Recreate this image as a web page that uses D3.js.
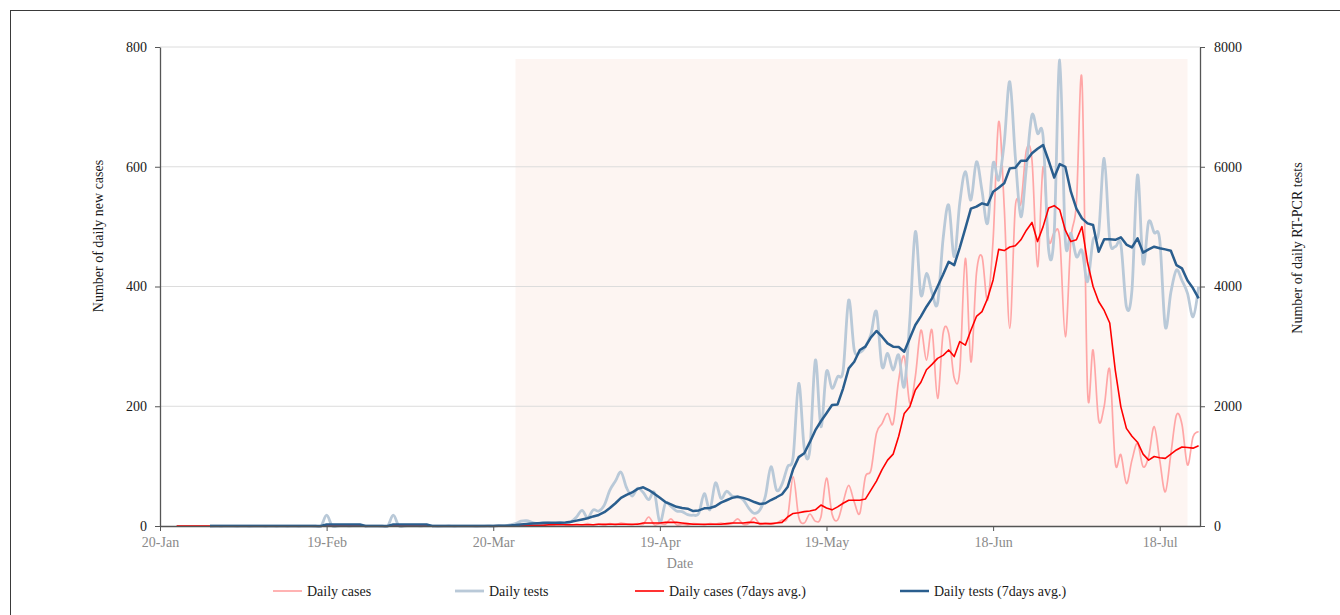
<!DOCTYPE html>
<html>
<head>
<meta charset="utf-8">
<script src="https://cdn.jsdelivr.net/npm/d3@7"></script>
<style>
  body { margin: 0; background: #fff; }
  svg { display: block; }
  text { font-family: "Liberation Serif", "Times New Roman", serif; }
</style>
</head>
<body>
<svg width="1340" height="615"></svg>
<script>
// one value per day, starting 20-Jan-2020
const startDate = "2020-01-20";

const casesDaily = [
  null, null, null, 0, 0, 0, 0, 0, 0, 0,
  0, 0, 0, 0, 0, 0, 0, 0, 0, 0,
  0, 0, 0, 0, 0, 0, 0, 0, 0, 0,
  0, 0, 0, 0, 0, 0, 0, 0, 0, 0,
  0, 0, 0, 0, 0, 0, 0, 0, 0, 0,
  0, 0, 0, 0, 0, 0, 0, 0, 0, 0,
  0, 1, 0, 2, 1, 3, 1, 2, 0, 3,
  1, 2, 4, 2, 1, 3, 2, 4, 2, 3,
  1, 4, 2, 5, 3, 2, 4, 3, 15, 2,
  4, 3, 12, 2, 3, 2, 4, 3, 2, 4,
  3, 5, 3, 4, 12, 3, 4, 14, 3, 5,
  3, 5, 10, 15, 82, 15, 5, 20, 8, 15,
  80, 20, 10, 40, 68, 40, 21, 82, 93, 155,
  171, 188, 171, 244, 283, 205, 250, 327, 277, 327,
  213, 322, 322, 247, 260, 447, 274, 422, 450, 377,
  478, 675, 533, 330, 533, 539, 628, 611, 433, 600,
  478, 490, 480, 316, 478, 539, 745, 227, 294, 177,
  200, 261, 105, 119, 71, 110, 138, 99, 116, 166,
  110, 57, 120, 185, 170, 102, 149, 157
];

const testsDaily = [
  null, null, null, null, null, null, null, null, null, 0,
  2, 0, 3, 1, 0, 2, 0, 1, 3, 0,
  2, 0, 1, 0, 2, 0, 3, 1, 0, 2,
  180, 2, 0, 3, 0, 1, 2, 0, 3, 1,
  0, 2, 180, 3, 0, 2, 1, 0, 3, 2,
  0, 1, 4, 0, 2, 3, 1, 0, 2, 5,
  3, 8, 5, 20, 40, 80, 90, 60, 40, 60,
  50, 40, 60, 40, 70, 150, 260, 140, 270, 250,
  350, 600, 750, 900, 640, 500, 630, 560, 440, 560,
  60, 380, 330, 250, 240, 190, 180, 210, 540, 270,
  720, 460, 580, 500, 490, 440, 300, 212, 267, 500,
  990, 600, 700, 990, 1157, 2383, 1300, 1269, 2772, 1658,
  2577, 2300, 2494, 2600, 3774, 2939, 2900, 2995, 3200, 3579,
  2660, 2884, 2605, 2856, 2326, 3440, 4915, 3858, 4220, 3900,
  3719, 4800, 5360, 4497, 5400, 5917, 5444, 6084, 5600, 5055,
  6057, 5778, 6400, 7420, 6167, 5165, 6000, 6864, 6558, 6500,
  4609, 4900, 7782, 4776, 4888, 4497, 4600, 4080, 4776, 4900,
  6140, 4776, 4665, 4700, 3662, 3941, 5862, 4387, 5082, 4900,
  4776, 3328, 3900, 4275, 4100, 3886, 3495, 3996
];

const casesAvg = [
  null, null, null, 0, 0, 0, 0, 0, 0, 0,
  0, 0, 0, 0, 0, 0, 0, 0, 0, 0,
  0, 0, 0, 0, 0, 0, 0, 0, 0, 0,
  0, 0, 0, 0, 0, 0, 0, 0, 0, 0,
  0, 0, 0, 0, 0, 0, 0, 0, 0, 0,
  0, 0, 0, 0, 0, 0, 0, 0, 0, 0,
  0, 0, 0, 0, 1, 1, 1, 1, 1, 1,
  2, 2, 2, 2, 2, 2, 2, 2, 2, 3,
  3, 3, 3, 3, 3, 3, 3, 5, 5, 5,
  5, 6, 6, 6, 5, 4, 3, 3, 3, 3,
  3, 3, 4, 5, 5, 5, 6, 6, 4, 4,
  4, 5, 6, 15, 21, 22, 24, 25, 27, 35,
  30, 27, 32, 38, 43, 43, 43, 45, 60, 75,
  94, 110, 120, 150, 188, 199, 227, 240, 261, 270,
  280, 285, 294, 283, 308, 302, 327, 350, 358, 380,
  411, 462, 460, 466, 468, 478, 494, 507, 475, 500,
  531, 535, 528, 494, 475, 478, 500, 440, 400, 375,
  360, 339, 260, 199, 163, 150, 140, 120, 110, 116,
  114, 113, 120, 127, 132, 131, 130, 134
];

const testsAvg = [
  null, null, null, null, null, null, null, null, null, 0,
  0, 0, 0, 1, 1, 1, 1, 1, 1, 1,
  1, 1, 1, 1, 1, 1, 1, 1, 1, 1,
  26, 26, 27, 27, 26, 27, 26, 1, 1, 1,
  1, 1, 27, 26, 27, 26, 27, 27, 26, 2,
  1, 2, 1, 1, 2, 2, 1, 2, 2, 2,
  2, 3, 5, 10, 15, 25, 35, 40, 45, 50,
  55, 55, 55, 60, 70, 90, 110, 130, 160, 185,
  230, 300, 380, 470, 520, 560, 620, 646, 600, 540,
  470, 400, 360, 320, 300, 290, 250, 260, 295, 300,
  330, 390, 430, 470, 490, 470, 440, 400, 367, 380,
  434, 480, 530, 650, 950, 1150, 1214, 1400, 1600, 1750,
  1882, 2020, 2030, 2300, 2633, 2744, 2939, 2995, 3150, 3257,
  3162, 3050, 2995, 2990, 2911, 3135, 3357, 3500, 3662, 3802,
  4000, 4200, 4413, 4358, 4650, 4971, 5300, 5333, 5389, 5361,
  5583, 5650, 5723, 5973, 5984, 6100, 6100, 6224, 6300, 6363,
  6100, 5820, 6045, 6000, 5583, 5300, 5138, 5055, 5027, 4581,
  4788, 4788, 4780, 4821, 4700, 4654, 4805, 4565, 4620, 4665,
  4640, 4620, 4598, 4358, 4303, 4100, 3970, 3802
];

const tickDates = ["2020-01-20", "2020-02-19", "2020-03-20", "2020-04-19", "2020-05-19", "2020-06-18", "2020-07-18"];
const casesTicks = [0, 200, 400, 600, 800];
const testsTicks = [0, 2000, 4000, 6000, 8000];
const shadeDates = ["2020-03-24", "2020-07-23"];
const shadeTop = 780;
const seriesNames = ["Daily cases", "Daily tests", "Daily cases (7days avg.)", "Daily tests (7days avg.)"];

const width = 1340, height = 615;
const margin = { top: 47, right: 140, bottom: 89, left: 160 };
const parse = d3.timeParse("%Y-%m-%d");
const start = parse(startDate);

const svg = d3.select("svg");

// outer frame
svg.append("rect")
  .attr("x", 10.5).attr("y", 10.5)
  .attr("width", width).attr("height", height)
  .attr("fill", "none").attr("stroke", "#3a3a3a").attr("stroke-width", 1);

const xScale = d3.scaleTime()
  .domain([start, d3.timeHour.offset(parse("2020-07-25"), 6)])
  .range([margin.left, width - margin.right]);
const yCases = d3.scaleLinear().domain([0, 800]).range([height - margin.bottom, margin.top]);
const yTests = d3.scaleLinear().domain([0, 8000]).range([height - margin.bottom, margin.top]);

// shaded period
svg.append("rect")
  .attr("x", xScale(parse(shadeDates[0])))
  .attr("y", yCases(shadeTop))
  .attr("width", xScale(parse(shadeDates[1])) - xScale(parse(shadeDates[0])))
  .attr("height", yCases(0) - yCases(shadeTop))
  .attr("fill", "#fdf5f2");

// gridlines
svg.append("g")
  .selectAll("line")
  .data(casesTicks.filter(d => d > 0))
  .enter()
  .append("line")
  .attr("x1", margin.left).attr("x2", width - margin.right)
  .attr("y1", d => yCases(d)).attr("y2", d => yCases(d))
  .attr("stroke", "#dcdcdc").attr("stroke-width", 1);

const dateOf = i => d3.timeDay.offset(start, i);

function drawLine(values, yScale, curve, color, w) {
  const line = d3.line()
    .defined(d => d != null)
    .x((d, i) => xScale(dateOf(i)))
    .y(d => yScale(d))
    .curve(curve);
  svg.append("path")
    .datum(values)
    .attr("d", line)
    .attr("fill", "none")
    .attr("stroke", color)
    .attr("stroke-width", w)
    .attr("stroke-linejoin", "round");
}

const colors = ["#ffa6a6", "#b9c9d8", "#ff0000", "#2a5e8e"];
const widths = [1.7, 2.8, 1.6, 2.5];

drawLine(casesDaily, yCases, d3.curveCardinal.tension(0), colors[0], widths[0]);
drawLine(testsDaily, yTests, d3.curveCardinal.tension(0), colors[1], widths[1]);
drawLine(casesAvg, yCases, d3.curveLinear, colors[2], widths[2]);
drawLine(testsAvg, yTests, d3.curveLinear, colors[3], widths[3]);

// axes
const xAxis = d3.axisBottom(xScale)
  .tickValues(tickDates.map(parse))
  .tickFormat(d3.timeFormat("%d-%b"))
  .tickSize(5).tickSizeOuter(0).tickPadding(6);
const gx = svg.append("g")
  .attr("transform", `translate(0, ${height - margin.bottom})`)
  .call(xAxis);
gx.selectAll("text").attr("fill", "#8a8a8a").style("font-size", "14px");

const gl = svg.append("g")
  .attr("transform", `translate(${margin.left}, 0)`)
  .call(d3.axisLeft(yCases).tickValues(casesTicks).tickFormat(d3.format("d"))
    .tickSize(5).tickSizeOuter(0).tickPadding(8));
gl.selectAll("text").attr("fill", "#1a1a1a").style("font-size", "14px");

const gr = svg.append("g")
  .attr("transform", `translate(${width - margin.right}, 0)`)
  .call(d3.axisRight(yTests).tickValues(testsTicks).tickFormat(d3.format("d"))
    .tickSize(5).tickSizeOuter(0).tickPadding(9));
gr.selectAll("text").attr("fill", "#1a1a1a").style("font-size", "14px");

[gx, gl, gr].forEach(g => {
  g.select(".domain").attr("stroke", "#555").attr("stroke-width", 1.3);
  g.selectAll(".tick line").attr("stroke", "#555");
  g.attr("font-family", null);
});

// axis titles
svg.append("text")
  .attr("x", 680).attr("y", 568)
  .attr("text-anchor", "middle")
  .attr("fill", "#8a8a8a").style("font-size", "14px")
  .text("Date");
svg.append("text")
  .attr("transform", "translate(98, 236) rotate(-90)")
  .attr("text-anchor", "middle").attr("dy", "0.35em")
  .attr("fill", "#1a1a1a").style("font-size", "14px")
  .text("Number of daily new cases");
svg.append("text")
  .attr("transform", "translate(1297, 248) rotate(-90)")
  .attr("text-anchor", "middle").attr("dy", "0.35em")
  .attr("fill", "#1a1a1a").style("font-size", "14px")
  .text("Number of daily RT-PCR tests");

// legend
const legendX = [273, 455, 635, 900];
const legend = svg.append("g").attr("transform", "translate(0, 591)");
seriesNames.forEach((name, i) => {
  legend.append("line")
    .attr("x1", legendX[i]).attr("x2", legendX[i] + 29)
    .attr("y1", 0).attr("y2", 0)
    .attr("stroke", colors[i]).attr("stroke-width", widths[i]);
  legend.append("text")
    .attr("x", legendX[i] + 34).attr("y", 0).attr("dy", "0.35em")
    .attr("fill", "#1a1a1a").style("font-size", "14px")
    .text(name);
});
</script>
</body>
</html>
